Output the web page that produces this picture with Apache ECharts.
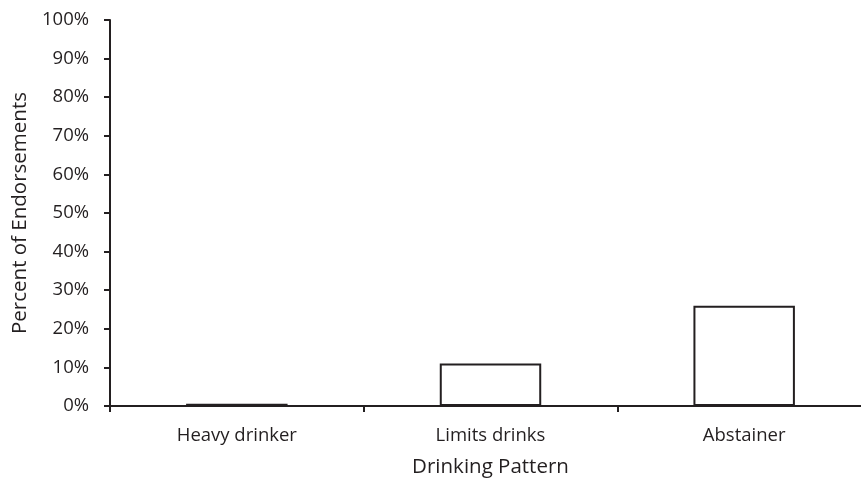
<!DOCTYPE html>
<html><head><meta charset="utf-8">
<script src="https://cdn.jsdelivr.net/npm/echarts@6/dist/echarts.min.js"></script>
<style>html,body{margin:0;padding:0;background:#fff}#c{width:861px;height:482px}</style>
</head><body><div id="c"></div>
<script>
const categories = ["Heavy drinker", "Limits drinks", "Abstainer"];
const values = [0.6, 11, 26];
const yTickLabels = ["0%","10%","20%","30%","40%","50%","60%","70%","80%","90%","100%"];
const xTitle = "Drinking Pattern";
const yTitle = "Percent of Endorsements";

const font = "'Open Sans', 'Liberation Sans', sans-serif";
const ink = "#231f20";
const chart = echarts.init(document.getElementById('c'));
chart.setOption({
  animation: false,
  grid: { left: 110, top: 20, width: 761, height: 386, containLabel: false, outerBoundsMode: 'none' },
  xAxis: {
    type: 'category', data: categories,
    name: xTitle, nameLocation: 'middle', nameGap: 51,
    nameTextStyle: { fontFamily: font, fontSize: 20.5, color: ink },
    axisLine: { lineStyle: { color: ink, width: 2 } },
    axisTick: { show: true, length: 6, lineStyle: { color: ink, width: 2 } },
    axisLabel: { fontFamily: font, fontSize: 18.5, color: ink, margin: 20 }
  },
  yAxis: {
    type: 'value', min: 0, max: 100, interval: 10,
    name: yTitle, nameLocation: 'middle', nameGap: 79, nameRotate: 90,
    nameTextStyle: { fontFamily: font, fontSize: 20.5, color: ink },
    splitLine: { show: false },
    axisLine: { show: true, lineStyle: { color: ink, width: 2 } },
    axisTick: { show: true, length: 6, lineStyle: { color: ink, width: 2 } },
    axisLabel: { fontFamily: font, fontSize: 18.5, color: ink, margin: 21,
      formatter: v => yTickLabels[Math.round(v / 10)] }
  },
  series: [{
    type: 'bar', data: values, barWidth: '40%',
    itemStyle: { color: '#fff', borderColor: ink, borderWidth: 2 }
  }]
});
</script></body></html>
